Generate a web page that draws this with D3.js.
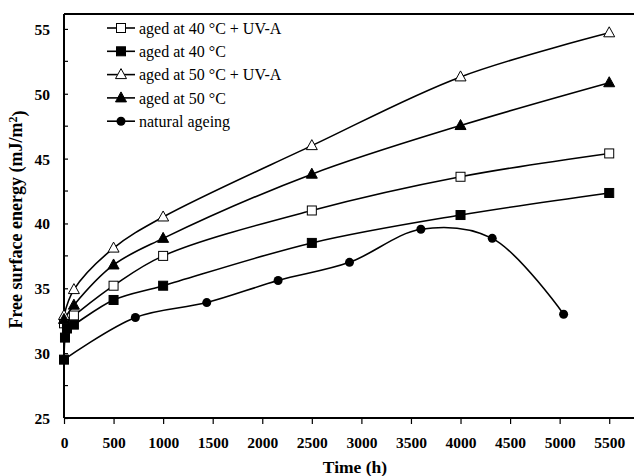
<!DOCTYPE html>
<html>
<head>
<meta charset="utf-8">
<script src="https://cdn.jsdelivr.net/npm/d3@7"></script>
<style>
  body { margin: 0; background: #fff; }
  text { font-family: "Liberation Serif", "Times New Roman", serif; }
</style>
</head>
<body>
<div id="chart"></div>
<script>
// hours and free surface energy (mJ/m2)
var seriesNames = ["aged at 40 °C + UV-A", "aged at 40 °C", "aged at 50 °C + UV-A", "aged at 50 °C", "natural ageing"];
var markers = ["squareOpen", "square", "triangleOpen", "triangle", "circle"];

var uv40 = [[0, 32.3], [100, 32.9], [500, 35.2], [1000, 37.5], [2500, 41.0], [4000, 43.6], [5500, 45.4]];
var aged40 = [[0, 29.5], [10, 31.2], [30, 31.9], [100, 32.2], [500, 34.1], [1000, 35.2], [2500, 38.5], [4000, 40.65], [5500, 42.35]];
var uv50 = [[0, 32.9], [100, 34.9], [500, 38.1], [1000, 40.5], [2500, 46.0], [4000, 51.3], [5500, 54.7]];
var aged50 = [[0, 32.6], [100, 33.7], [500, 36.8], [1000, 38.85], [2500, 43.8], [4000, 47.55], [5500, 50.85]];
var natural = [[0, 29.5], [720, 32.75], [1440, 33.9], [2160, 35.6], [2880, 37.0], [3600, 39.55], [4320, 38.85], [5040, 33.0]];

var xTicks = [0, 500, 1000, 1500, 2000, 2500, 3000, 3500, 4000, 4500, 5000, 5500];
var yTicks = [25, 30, 35, 40, 45, 50, 55];
var yMinor = [27.5, 32.5, 37.5, 42.5, 47.5, 52.5];

var allSeries = [uv40, aged40, uv50, aged50, natural];

var margin = {top: 14, right: 0, bottom: 58, left: 64},
    width = 634 - margin.left - margin.right,
    height = 476 - margin.top - margin.bottom;

var svg = d3.select("#chart").append("svg")
    .attr("width", 634)
    .attr("height", 476)
  .append("g")
    .attr("transform", "translate(" + margin.left + "," + margin.top + ")");

var x = d3.scaleLinear().domain([0, 5750]).range([0, width]);
var y = d3.scaleLinear().domain([25, 56.15]).range([height, 0]);

// axes
var xAxis = d3.axisBottom(x).tickValues(xTicks).tickSize(6).tickFormat(d3.format("d"));
var gx = svg.append("g").attr("transform", "translate(0," + height + ")").call(xAxis);
gx.select(".domain").attr("stroke-width", 2).attr("d", "M0,0H" + width);
gx.selectAll(".tick line").attr("stroke-width", 1.2);
gx.selectAll("text").attr("y", 19).attr("dy", "0.71em")
    .style("font-size", "15.5px").style("font-weight", "bold").attr("fill", "#000");

var yAxis = d3.axisLeft(y).tickValues(yTicks).tickSize(5);
var gy = svg.append("g").call(yAxis);
gy.select(".domain").attr("stroke-width", 2).attr("d", "M0," + height + "V0");
gy.selectAll(".tick line").attr("x2", 4).attr("stroke-width", 1.2);
gy.selectAll("text").attr("x", -14).attr("dy", "0.35em")
    .style("font-size", "15.5px").style("font-weight", "bold").attr("fill", "#000");

svg.selectAll(".minor")
    .data(yMinor)
  .enter().append("line")
    .attr("x1", 0).attr("x2", 4)
    .attr("y1", function(d){ return y(d); })
    .attr("y2", function(d){ return y(d); })
    .attr("stroke", "black").attr("stroke-width", 1.2);

// top border
svg.append("line")
    .attr("x1", 0).attr("x2", width).attr("y1", 0).attr("y2", 0)
    .attr("stroke", "black").attr("stroke-width", 2);

// titles
svg.append("text")
    .attr("x", 291).attr("y", height + 55)
    .style("text-anchor", "middle").style("font-size", "17.5px").style("font-weight", "bold")
    .text("Time (h)");

var yt = svg.append("text")
    .attr("transform", "translate(-42," + (y(40.3)) + ") rotate(-90)")
    .style("text-anchor", "middle").style("font-size", "18px").style("font-weight", "bold");
yt.append("tspan").text("Free surface energy  (mJ/m");
yt.append("tspan").attr("dy", "-0.45em").style("font-size", "12px").text("2");
yt.append("tspan").attr("dy", "0.45em").text(")");

// lines
var line = d3.line()
    .curve(d3.curveCatmullRom.alpha(0.5))
    .x(function(d){ return x(d[0]); })
    .y(function(d){ return y(d[1]); });

function drawMarker(g, type, cx, cy) {
    if (type == "squareOpen" || type == "square") {
        g.append("rect")
            .attr("x", cx - 4.5).attr("y", cy - 4.5).attr("width", 9).attr("height", 9)
            .attr("fill", type == "square" ? "black" : "white")
            .attr("stroke", "black").attr("stroke-width", 1);
    } else if (type == "triangleOpen" || type == "triangle") {
        g.append("path")
            .attr("d", "M" + cx + "," + (cy - 6) + "L" + (cx + 5.5) + "," + (cy + 4) + "L" + (cx - 5.5) + "," + (cy + 4) + "Z")
            .attr("fill", type == "triangle" ? "black" : "white")
            .attr("stroke", "black").attr("stroke-width", 1);
    } else {
        g.append("circle").attr("cx", cx).attr("cy", cy).attr("r", 4.5).attr("fill", "black");
    }
}

// draw natural first so squares sit on top at t=0
var order = [4, 0, 2, 3, 1];
order.forEach(function(i){
    svg.append("path")
        .datum(allSeries[i])
        .attr("d", line)
        .attr("fill", "none")
        .attr("stroke", "black")
        .attr("stroke-width", 1.6);
});
order.forEach(function(i){
    var g = svg.append("g");
    allSeries[i].forEach(function(d){
        drawMarker(g, markers[i], x(d[0]), y(d[1]));
    });
});

// legend
var legend = svg.append("g").attr("transform", "translate(43,14)");
seriesNames.forEach(function(name, i){
    var ly = i * 23.3;
    legend.append("line")
        .attr("x1", 0).attr("x2", 28).attr("y1", ly).attr("y2", ly)
        .attr("stroke", "black").attr("stroke-width", 1.6);
    drawMarker(legend, markers[i], 14, ly);
    legend.append("text")
        .attr("x", 32).attr("y", ly).attr("dy", "0.35em")
        .style("font-size", "16px")
        .text(name);
});
</script>
</body>
</html>
